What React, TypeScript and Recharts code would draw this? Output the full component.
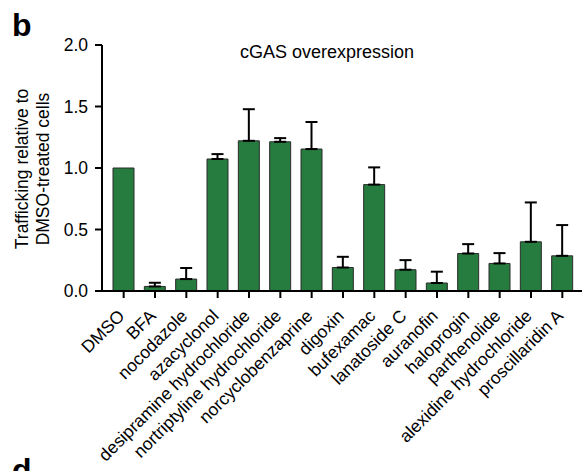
import React from 'react';
import { BarChart, Bar, XAxis, YAxis, ErrorBar, Label } from 'recharts';

const categories = [
  'DMSO', 'BFA', 'nocodazole', 'azacyclonol', 'desipramine hydrochloride',
  'nortriptyline hydrochloride', 'norcyclobenzaprine', 'digoxin', 'bufexamac',
  'lanatoside C', 'auranofin', 'haloprogin', 'parthenolide',
  'alexidine hydrochloride', 'proscillaridin A',
];
const means = [1.0, 0.037, 0.097, 1.073, 1.221, 1.213, 1.154, 0.191, 0.865, 0.173, 0.065, 0.305, 0.224, 0.4, 0.286];
const errors = [null, 0.03, 0.09, 0.04, 0.257, 0.03, 0.22, 0.087, 0.14, 0.078, 0.092, 0.076, 0.084, 0.32, 0.25];
const yTicks = [0, 0.5, 1.0, 1.5, 2.0];

const data = categories.map((name, i) => ({
  name,
  value: means[i],
  err: errors[i] == null ? null : [0, errors[i]],
}));

const FONT = '"Liberation Sans", Arial, Helvetica, sans-serif';
const FS = 17.5;

const XTick = (props: any) => {
  const { x, y, payload } = props;
  return (
    <g transform={`translate(${x + 2},${y + 17}) rotate(-45)`}>
      <text x={0} y={0} textAnchor="end" fill="#000" fontSize={FS} fontFamily={FONT}>
        {payload.value}
      </text>
    </g>
  );
};

export default function App() {
  return (
    <div style={{ width: 582, height: 471, position: 'relative', background: '#fff', overflow: 'hidden' }}>
      <style>{`body{margin:0;}`}</style>
      <BarChart
        width={582}
        height={471}
        data={data}
        margin={{ top: 45, right: 0, bottom: 10, left: 40 }}
        barSize={21}
      >
        <text x={12} y={36} fontSize={32} fontWeight="bold" fontFamily={FONT} fill="#000">b</text>
        <text x={12} y={481} fontSize={32} fontWeight="bold" fontFamily={FONT} fill="#000">d</text>
        <text x={327} y={58} fontSize={18} textAnchor="middle" fontFamily={FONT} fill="#000">cGAS overexpression</text>
        <XAxis
          dataKey="name"
          interval={0}
          height={170}
          padding={{ left: 6, right: 4 }}
          axisLine={{ stroke: '#000', strokeWidth: 2 }}
          tickLine={{ stroke: '#000', strokeWidth: 2 }}
          tickSize={7}
          tick={<XTick />}
        />
        <YAxis
          width={62}
          domain={[0, 2]}
          ticks={yTicks}
          tickFormatter={(v: number) => v.toFixed(1)}
          axisLine={{ stroke: '#000', strokeWidth: 2 }}
          tickLine={{ stroke: '#000', strokeWidth: 2 }}
          tickSize={7}
          tickMargin={7}
          tick={{ fill: '#000', fontSize: 17.5, fontFamily: FONT }}
        >
          <Label
            content={() => (
              <g fontFamily={FONT} fontSize={FS} fill="#000">
                <text transform="translate(27.5,169) rotate(-90)" textAnchor="middle">Trafficking relative to</text>
                <text transform="translate(49,169) rotate(-90)" textAnchor="middle">DMSO-treated cells</text>
              </g>
            )}
          />
        </YAxis>
        <Bar dataKey="value" fill="#267b3f" stroke="#2b2b2b" strokeWidth={1} isAnimationActive={false}>
          <ErrorBar dataKey="err" width={6} stroke="#000" strokeWidth={2} direction="y" />
        </Bar>
      </BarChart>
    </div>
  );
}
